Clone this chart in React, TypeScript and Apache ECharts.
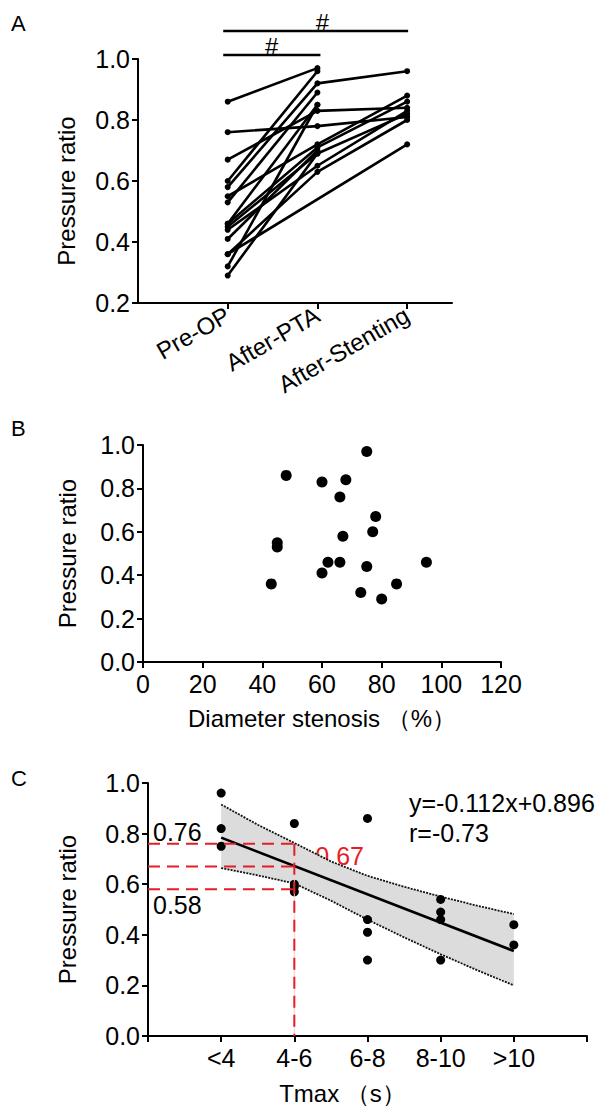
import React, { useEffect, useRef } from 'react';
import * as echarts from 'echarts';

// ---------- Panel A ----------
const aCategories = ['Pre-OP', 'After-PTA', 'After-Stenting'];
const preOP = [0.86, 0.76, 0.67, 0.6, 0.58, 0.55, 0.53, 0.46, 0.46, 0.45, 0.44, 0.41, 0.36, 0.36, 0.32, 0.29];
const afterPTA = [0.97, 0.78, 0.83, 0.96, 0.92, 0.72, 0.89, 0.85, 0.71, 0.69, 0.65, 0.7, 0.63, null, 0.85, 0.69];
const afterStenting = [null, 0.81, 0.84, null, 0.96, 0.88, null, null, 0.86, null, 0.83, null, 0.8, 0.72, null, 0.82];
const aYTicks = [0.2, 0.4, 0.6, 0.8, 1.0];

// ---------- Panel B ----------
const bStenosis = [75, 48, 60, 68, 66, 78, 77, 67, 45, 45, 62, 66, 75, 95, 60, 43, 85, 73, 80];
const bRatio = [0.97, 0.86, 0.83, 0.84, 0.76, 0.67, 0.6, 0.58, 0.55, 0.53, 0.46, 0.46, 0.44, 0.46, 0.41, 0.36, 0.36, 0.32, 0.29];

// ---------- Panel C ----------
const cCategories = ['<4', '4-6', '6-8', '8-10', '>10'];
const cGroup = [1, 1, 1, 2, 2, 2, 2, 3, 3, 3, 3, 4, 4, 4, 4, 5, 5];
const cRatio = [0.96, 0.82, 0.75, 0.84, 0.6, 0.59, 0.57, 0.86, 0.46, 0.41, 0.3, 0.54, 0.49, 0.46, 0.3, 0.44, 0.36];
const regX = [1, 5];
const regY = [0.784, 0.336];
const bandX = [1, 1.5, 2, 2.5, 3, 3.5, 4, 4.5, 5];
const bandUpper = [0.915, 0.835, 0.763, 0.69, 0.633, 0.59, 0.551, 0.515, 0.482];
const bandLower = [0.664, 0.635, 0.603, 0.535, 0.46, 0.39, 0.323, 0.26, 0.2];
const cutoffGroup = 2;
const cutoffValues = [0.76, 0.67, 0.58];
const equationText = 'y=-0.112x+0.896';
const rText = 'r=-0.73';

const FONT = "'Liberation Sans', Arial, sans-serif";
const BLACK = '#000';
const RED = '#e41e26';

const axisLine = { show: true, lineStyle: { color: BLACK, width: 2 } };
const axisTick = { show: true, length: 6, lineStyle: { color: BLACK, width: 2 } };
const labelStyle = { color: BLACK, fontSize: 25, fontFamily: FONT };
const nameStyle = { color: BLACK, fontSize: 24, fontFamily: FONT };

function buildOption() {
  const aSeries = preOP.map((p, i) => {
    const pts: number[][] = [];
    [p, afterPTA[i], afterStenting[i]].forEach((v, k) => {
      if (v !== null && v !== undefined) pts.push([k + 1, v as number]);
    });
    return {
      type: 'line',
      xAxisIndex: 0,
      yAxisIndex: 0,
      data: pts,
      symbol: 'circle',
      symbolSize: 6,
      itemStyle: { color: BLACK, opacity: 1 },
      lineStyle: { color: BLACK, width: 2.6 },
      silent: true,
      z: 3,
    };
  });

  const bandData = bandX.map((x, i) => [x, bandLower[i], bandUpper[i]]);

  const redSeries: any[] = cutoffValues.map((v) => ({
    type: 'line',
    xAxisIndex: 2,
    yAxisIndex: 2,
    data: [
      [0, v],
      [cutoffGroup, v],
    ],
    symbol: 'none',
    lineStyle: { color: RED, width: 2, type: [12, 7] },
    silent: true,
    z: 6,
  }));
  redSeries.push({
    type: 'line',
    xAxisIndex: 2,
    yAxisIndex: 2,
    data: [
      [cutoffGroup, cutoffValues[0]],
      [cutoffGroup, 0],
    ],
    symbol: 'none',
    lineStyle: { color: '#f6caca', width: 1 },
    silent: true,
    z: 5,
  });
  redSeries.push({
    type: 'line',
    xAxisIndex: 2,
    yAxisIndex: 2,
    data: [
      [cutoffGroup, cutoffValues[0]],
      [cutoffGroup, 0],
    ],
    symbol: 'none',
    lineStyle: { color: RED, width: 2, type: [12, 7] },
    silent: true,
    z: 6,
  });

  return {
    animation: false,
    backgroundColor: '#fff',
    textStyle: { fontFamily: FONT },
    grid: [
      { left: 138, top: 59, width: 314, height: 244 },
      { left: 143, top: 445, width: 358, height: 217 },
      { left: 148, top: 783, width: 439, height: 256.5 },
    ],
    xAxis: [
      {
        gridIndex: 0,
        type: 'value',
        min: 0,
        max: 3.5,
        interval: 1,
        axisLine,
        axisTick: { ...axisTick, customValues: [1, 2, 3] },
        splitLine: { show: false },
        axisLabel: {
          ...labelStyle,
          fontSize: 24,
          rotate: 30,
          margin: 10,
          customValues: [1, 2, 3],
          formatter: (v: number) => aCategories[Math.round(v) - 1] ?? '',
        },
      },
      {
        gridIndex: 1,
        type: 'value',
        min: 0,
        max: 120,
        interval: 20,
        axisLine,
        axisTick,
        splitLine: { show: false },
        axisLabel: { ...labelStyle, margin: 9 },
        name: 'Diameter stenosis （%）',
        nameLocation: 'middle',
        nameGap: 44,
        nameTextStyle: nameStyle,
      },
      {
        gridIndex: 2,
        type: 'value',
        min: 0,
        max: 6,
        interval: 1,
        axisLine,
        axisTick,
        splitLine: { show: false },
        axisLabel: {
          ...labelStyle,
          margin: 9,
          formatter: (v: number) => cCategories[Math.round(v) - 1] ?? '',
        },
        name: 'Tmax （s）',
        nameLocation: 'middle',
        nameGap: 45,
        nameTextStyle: { ...nameStyle, padding: [0, 50, 0, 0] },
      },
    ],
    yAxis: [
      {
        gridIndex: 0,
        type: 'value',
        min: aYTicks[0],
        max: aYTicks[aYTicks.length - 1],
        interval: 0.2,
        axisLine,
        axisTick,
        splitLine: { show: false },
        axisLabel: { ...labelStyle, margin: 8, formatter: (v: number) => v.toFixed(1) },
        name: 'Pressure ratio',
        nameLocation: 'middle',
        nameGap: 60,
        nameTextStyle: { ...nameStyle, padding: [0, 20, 0, 0] },
      },
      {
        gridIndex: 1,
        type: 'value',
        min: 0,
        max: 1,
        interval: 0.2,
        axisLine,
        axisTick,
        splitLine: { show: false },
        axisLabel: { ...labelStyle, margin: 8, formatter: (v: number) => v.toFixed(1) },
        name: 'Pressure ratio',
        nameLocation: 'middle',
        nameGap: 64,
        nameTextStyle: nameStyle,
      },
      {
        gridIndex: 2,
        type: 'value',
        min: 0,
        max: 1,
        interval: 0.2,
        axisLine,
        axisTick,
        splitLine: { show: false },
        axisLabel: { ...labelStyle, margin: 8, formatter: (v: number) => v.toFixed(1) },
        name: 'Pressure ratio',
        nameLocation: 'middle',
        nameGap: 69,
        nameTextStyle: nameStyle,
      },
    ],
    series: [
      ...aSeries,
      {
        type: 'scatter',
        xAxisIndex: 1,
        yAxisIndex: 1,
        data: bStenosis.map((x, i) => [x, bRatio[i]]),
        symbol: 'circle',
        symbolSize: 11,
        itemStyle: { color: BLACK, opacity: 1 },
        silent: true,
      },
      {
        type: 'custom',
        xAxisIndex: 2,
        yAxisIndex: 2,
        data: bandData,
        encode: { x: 0, y: [1, 2] },
        silent: true,
        z: 1,
        renderItem: (params: any, api: any) => {
          if (params.dataIndex !== 0) return null;
          const top = bandX.map((x, i) => api.coord([x, bandUpper[i]]));
          const bottom = bandX.map((x, i) => api.coord([x, bandLower[i]])).reverse();
          return {
            type: 'polygon',
            shape: { points: top.concat(bottom) },
            style: { fill: '#dcdcdc', stroke: 'none' },
          };
        },
      },
      {
        type: 'line',
        xAxisIndex: 2,
        yAxisIndex: 2,
        data: bandX.map((x, i) => [x, bandUpper[i]]),
        symbol: 'none',
        lineStyle: { color: '#111', width: 1.8, type: [2, 1.2] },
        silent: true,
        z: 2,
      },
      {
        type: 'line',
        xAxisIndex: 2,
        yAxisIndex: 2,
        data: bandX.map((x, i) => [x, bandLower[i]]),
        symbol: 'none',
        lineStyle: { color: '#111', width: 1.8, type: [2, 1.2] },
        silent: true,
        z: 2,
      },
      {
        type: 'line',
        xAxisIndex: 2,
        yAxisIndex: 2,
        data: regX.map((x, i) => [x, regY[i]]),
        symbol: 'none',
        lineStyle: { color: BLACK, width: 2.6 },
        silent: true,
        z: 3,
      },
      {
        type: 'scatter',
        xAxisIndex: 2,
        yAxisIndex: 2,
        data: cGroup.map((g, i) => [g, cRatio[i]]),
        symbol: 'circle',
        symbolSize: 9,
        itemStyle: { color: BLACK, opacity: 1 },
        silent: true,
        z: 4,
      },
      ...redSeries,
    ],
  };
}

export default function App() {
  const ref = useRef<HTMLDivElement>(null);
  useEffect(() => {
    document.body.style.margin = '0';
    const chart = echarts.init(ref.current!, null, { renderer: 'svg' });
    chart.setOption(buildOption() as any);

    const pA = (x: number, y: number) => chart.convertToPixel({ gridIndex: 0 } as any, [x, y]) as number[];
    const pC = (x: number, y: number) => chart.convertToPixel({ gridIndex: 2 } as any, [x, y]) as number[];

    const a1 = pA(1, 1);
    const a2 = pA(2, 1);
    const a3 = pA(3, 1);
    const bar1Y = a1[1] - 4;
    const bar2Y = a1[1] - 28;

    const cAxisX = pC(0, 0)[0];
    const c076 = pC(0, cutoffValues[0]);
    const c067 = pC(cutoffGroup, cutoffValues[1]);
    const c058 = pC(0, cutoffValues[2]);
    const cTop = pC(0, 1);

    const txt = (x: number, y: number, text: string, extra: any = {}) => ({
      type: 'text',
      x,
      y,
      silent: true,
      style: {
        text,
        fill: BLACK,
        fontSize: 25,
        fontFamily: FONT,
        align: 'left',
        verticalAlign: 'middle',
        ...extra,
      },
    });

    chart.setOption({
      graphic: [
        txt(11, 23, 'A', { fontSize: 22 }),
        txt(11, 428, 'B', { fontSize: 22 }),
        txt(11, 778, 'C', { fontSize: 22 }),
        {
          type: 'line',
          silent: true,
          shape: { x1: a1[0] - 4.5, y1: bar1Y, x2: a2[0] + 3, y2: bar1Y },
          style: { stroke: BLACK, lineWidth: 2.6 },
        },
        {
          type: 'line',
          silent: true,
          shape: { x1: a1[0] - 4.5, y1: bar2Y, x2: a3[0] + 1, y2: bar2Y },
          style: { stroke: BLACK, lineWidth: 2.6 },
        },
        txt((a1[0] + a2[0]) / 2 - 1, bar1Y - 9, '#', { align: 'center', fontSize: 24 }),
        txt((a1[0] + a3[0]) / 2 + 5, bar2Y - 9, '#', { align: 'center', fontSize: 24 }),
        txt(cAxisX + 5, c076[1] - 12, '0.76'),
        txt(cAxisX + 5, c058[1] + 16, '0.58'),
        txt(c067[0] + 21, c067[1] - 10, '0.67', { fill: RED }),
        txt(409, cTop[1] + 20, equationText),
        txt(409, cTop[1] + 50, rText),
      ],
    } as any);

    return () => chart.dispose();
  }, []);
  return <div ref={ref} style={{ width: 599, height: 1106 }} />;
}
